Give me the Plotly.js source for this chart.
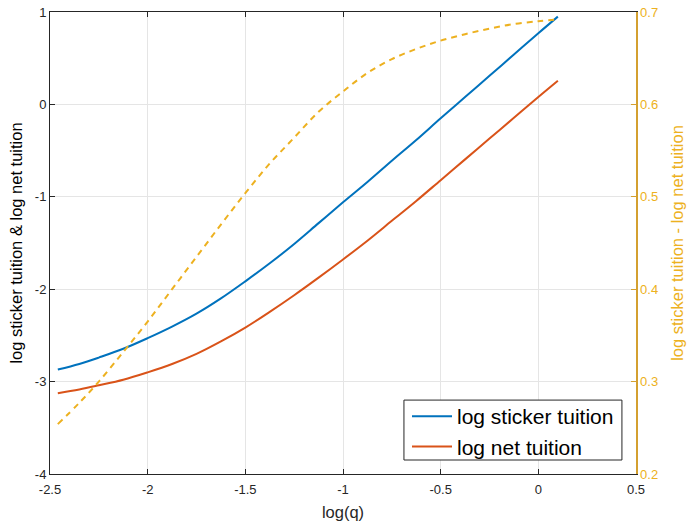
<!DOCTYPE html>
<html>
<head>
<meta charset="utf-8">
<script src="https://cdn.plot.ly/plotly-3.0.1.min.js"></script>
<style>html,body{margin:0;padding:0;background:#fff;}#chart{width:688px;height:522px;}</style>
</head>
<body>
<div id="chart"></div>
<script>
// data
const logQ = [-2.46, -2.35, -2.25, -2.125, -2.0, -1.875, -1.75, -1.625, -1.5, -1.375, -1.25,
              -1.125, -1.0, -0.875, -0.75, -0.625, -0.5, -0.375, -0.25, -0.125, 0.0, 0.1];
const logSticker = [-2.87, -2.81, -2.74, -2.645, -2.53, -2.405, -2.265, -2.10, -1.915, -1.72, -1.51,
                    -1.285, -1.06, -0.84, -0.61, -0.385, -0.15, 0.08, 0.31, 0.54, 0.77, 0.95];
const logNet = [-3.125, -3.085, -3.04, -2.98, -2.90, -2.81, -2.70, -2.565, -2.415, -2.245, -2.065,
                -1.875, -1.678, -1.475, -1.26, -1.045, -0.82, -0.595, -0.37, -0.145, 0.08, 0.256];
const logDiff = [0.254, 0.277, 0.300, 0.332, 0.365, 0.400, 0.435, 0.470, 0.504, 0.536, 0.564,
                 0.592, 0.614, 0.634, 0.649, 0.660, 0.669, 0.676, 0.682, 0.687, 0.690, 0.692];

const xTickVals = [-2.5, -2, -1.5, -1, -0.5, 0, 0.5];
const xTickText = ['-2.5', '-2', '-1.5', '-1', '-0.5', '0', '0.5'];
const yTickVals = [-4, -3, -2, -1, 0, 1];
const yTickText = ['-4', '-3', '-2', '-1', '0', '1'];
const y2TickVals = [0.2, 0.3, 0.4, 0.5, 0.6, 0.7];
const y2TickText = ['0.2', '0.3', '0.4', '0.5', '0.6', '0.7'];

const FONT = 'Liberation Sans, Arial, sans-serif';
const DARK = '#262626';
const ORANGE = '#EDB120';

const traces = [
  {x: logQ, y: logSticker, name: 'log sticker tuition', mode: 'lines',
   line: {color: '#0072BD', width: 2, shape: 'spline', smoothing: 1}},
  {x: logQ, y: logNet, name: 'log net tuition', mode: 'lines',
   line: {color: '#D95319', width: 2, shape: 'spline', smoothing: 1}},
  {x: logQ, y: logDiff, name: 'diff', mode: 'lines', yaxis: 'y2', showlegend: false,
   line: {color: ORANGE, width: 2, dash: '6px,5px', shape: 'spline', smoothing: 1}}
];

const layout = {
  width: 688, height: 522,
  margin: {l: 50, r: 52, t: 12, b: 48},
  paper_bgcolor: '#fff', plot_bgcolor: '#fff',
  font: {family: FONT, size: 13, color: DARK},
  showlegend: true,
  legend: {x: 0.971, y: 0.015, xanchor: 'right', yanchor: 'bottom',
    bgcolor: 'rgba(0,0,0,0)', borderwidth: 0,
    font: {family: FONT, size: 21, color: '#000'}, tracegroupgap: 0, itemwidth: 40},
  shapes: [
    {type: 'rect', xref: 'paper', yref: 'paper', x0: 0.604, x1: 0.976, y0: 0.0303, y1: 0.160,
     line: {color: '#262626', width: 1}, fillcolor: '#fff', layer: 'above'}
  ],
  xaxis: {range: [-2.5, 0.5], tickvals: xTickVals, ticktext: xTickText,
    showline: true, linecolor: DARK, linewidth: 1, mirror: 'ticks',
    ticks: 'inside', ticklen: 5, tickcolor: DARK, ticklabelstandoff: 3,
    showgrid: true, gridcolor: '#E5E5E5', zeroline: false,
    tickfont: {family: FONT, size: 13, color: DARK},
    title: {text: 'log(q)', font: {family: FONT, size: 16.5, color: DARK}, standoff: 10}},
  yaxis: {range: [-4, 1], tickvals: yTickVals, ticktext: yTickText,
    showline: true, linecolor: DARK, linewidth: 1,
    ticks: 'inside', ticklen: 5, tickcolor: DARK,
    showgrid: true, gridcolor: '#E5E5E5', zeroline: false,
    tickfont: {family: FONT, size: 13, color: DARK},
    title: {text: 'log sticker tuition & log net tuition', font: {family: FONT, size: 16.5, color: '#000'}, standoff: 8}},
  yaxis2: {range: [0.2, 0.7], tickvals: y2TickVals, ticktext: y2TickText,
    overlaying: 'y', side: 'right',
    showline: true, linecolor: '#D4A030', linewidth: 1.5,
    ticks: 'inside', ticklen: 5, tickcolor: '#D4A030',
    showgrid: false, zeroline: false,
    tickfont: {family: FONT, size: 13, color: ORANGE},
    title: {text: 'log sticker tuition - log net tuition', font: {family: FONT, size: 16.5, color: ORANGE}, standoff: 14}}
};

Plotly.newPlot('chart', traces, layout, {displayModeBar: false, staticPlot: true});
</script>
</body>
</html>
